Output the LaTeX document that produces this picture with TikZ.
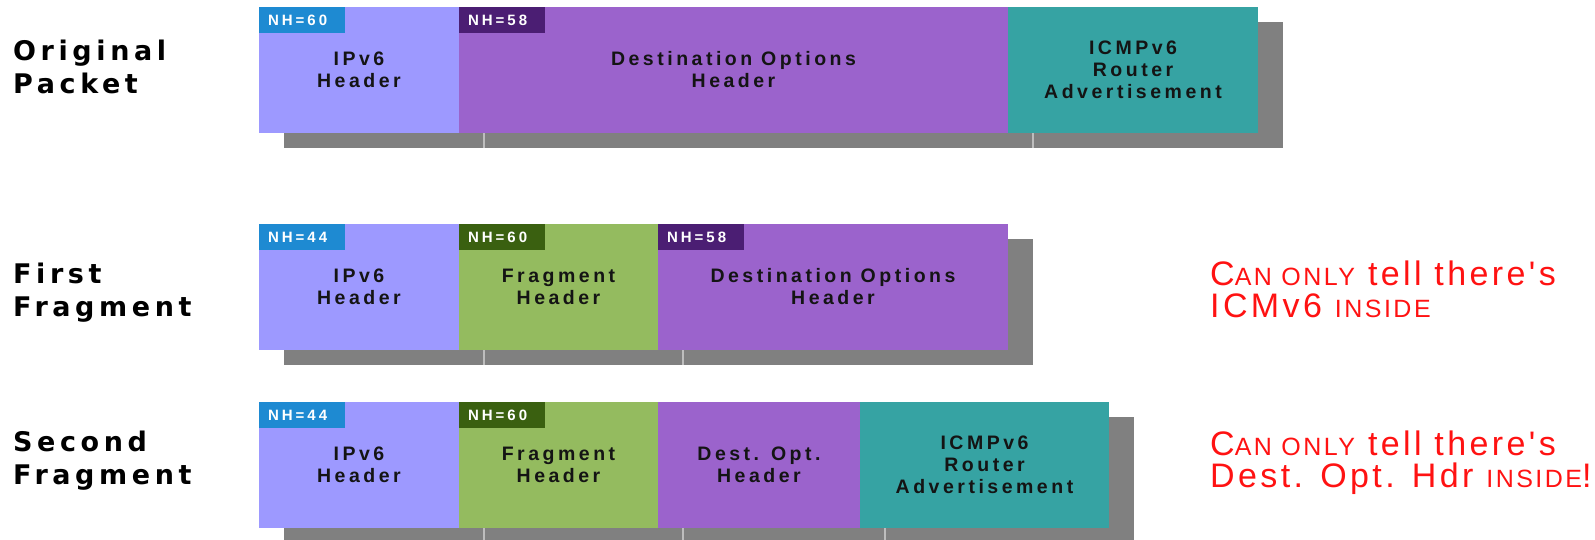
\documentclass[tikz,border=0pt]{standalone}
\usepackage{fontspec}
\setmainfont{Liberation Sans}
\newfontfamily\boxface[LetterSpace=18]{Liberation Sans}
\newfontfamily\labelface[LetterSpace=17]{DejaVu Sans}
\newfontfamily\tagface[LetterSpace=20]{Liberation Sans}
\newfontfamily\noteface[LetterSpace=10]{Liberation Sans}
\usetikzlibrary{shadows}

\definecolor{ipvsix}{HTML}{9D99FF}
\definecolor{destopt}{HTML}{9B63CC}
\definecolor{fraghdr}{HTML}{94BB5F}
\definecolor{icmpc}{HTML}{36A3A3}
\definecolor{tagblue}{HTML}{1E8AD2}
\definecolor{tagpurple}{HTML}{4B1E73}
\definecolor{taggreen}{HTML}{3A6010}
\definecolor{shadowgray}{HTML}{808080}
\definecolor{gapgray}{HTML}{BDBDBD}
\definecolor{notered}{HTML}{FF1212}

% small capitals for the handwritten remarks
\newcommand\sccap[1]{{\fontsize{25}{25}\selectfont #1}}

\tikzset{
  seg/.style={anchor=north west, inner sep=0pt, outer sep=0pt,
    minimum height=126pt, align=center, text=black!92,
    font=\boxface\bfseries\fontsize{19.5}{22}\selectfont,
    drop shadow={shadow xshift=25pt, shadow yshift=-15pt,
      fill=shadowgray, opacity=1}},
  tag/.style={anchor=north west, inner xsep=9pt, inner ysep=0pt,
    outer sep=0pt, text width=68pt, minimum height=26pt, align=left,
    text=white, font=\tagface\bfseries\fontsize{15}{16}\selectfont},
  rowlabel/.style={anchor=west, align=left, inner sep=0pt,
    font=\labelface\bfseries\fontsize{27}{33}\selectfont},
  note/.style={anchor=west, align=left, inner sep=0pt, text=notered,
    font=\noteface\fontsize{34}{32}\selectfont},
  gap/.style={draw=gapgray, line width=1.2pt}
}

\begin{document}
\begin{tikzpicture}[x=1pt, y=-1pt]
\useasboundingbox (0,0) rectangle (1595,540);

% ---------- original packet ----------
\node[rowlabel] (lo) at (13,67) {Original\\Packet};
\node[seg, fill=ipvsix, minimum width=200pt] (oa) at (259,7) {IPv6\\Header};
\node[seg, fill=destopt, minimum width=549pt] (ob) at (oa.north east) {Destination Options\\Header};
\node[seg, fill=icmpc, minimum width=250pt] (oc) at (ob.north east) {ICMPv6\\Router\\Advertisement};
\node[tag, fill=tagblue] (toa) at (oa.north west) {NH=60};
\node[tag, fill=tagpurple] (tob) at (ob.north west) {NH=58};
\draw[gap] ([xshift=25pt]oa.south east) -- ([xshift=25pt,yshift=-15pt]oa.south east);
\draw[gap] ([xshift=25pt]ob.south east) -- ([xshift=25pt,yshift=-15pt]ob.south east);

% ---------- first fragment ----------
\node[rowlabel] (lf) at (13,293) {First\\Fragment};
\node[seg, fill=ipvsix, minimum width=200pt] (fa) at (259,224) {IPv6\\Header};
\node[seg, fill=fraghdr, minimum width=199pt] (fb) at (fa.north east) {Fragment\\Header};
\node[seg, fill=destopt, minimum width=350pt] (fc) at (fb.north east) {Destination Options\\Header};
\node[tag, fill=tagblue] (tfa) at (fa.north west) {NH=44};
\node[tag, fill=taggreen] (tfb) at (fb.north west) {NH=60};
\node[tag, fill=tagpurple] (tfc) at (fc.north west) {NH=58};
\draw[gap] ([xshift=25pt]fa.south east) -- ([xshift=25pt,yshift=-15pt]fa.south east);
\draw[gap] ([xshift=25pt]fb.south east) -- ([xshift=25pt,yshift=-15pt]fb.south east);

% ---------- second fragment ----------
\node[rowlabel] (ls) at (13,461) {Second\\Fragment};
\node[seg, fill=ipvsix, minimum width=200pt] (sa) at (259,402) {IPv6\\Header};
\node[seg, fill=fraghdr, minimum width=199pt] (sb) at (sa.north east) {Fragment\\Header};
\node[seg, fill=destopt, minimum width=202pt] (sc) at (sb.north east) {Dest. Opt.\\Header};
\node[seg, fill=icmpc, minimum width=249pt] (sd) at (sc.north east) {ICMPv6\\Router\\Advertisement};
\node[tag, fill=tagblue] (tsa) at (sa.north west) {NH=44};
\node[tag, fill=taggreen] (tsb) at (sb.north west) {NH=60};
\draw[gap] ([xshift=25pt]sa.south east) -- ([xshift=25pt,yshift=-15pt]sa.south east);
\draw[gap] ([xshift=25pt]sb.south east) -- ([xshift=25pt,yshift=-15pt]sb.south east);
\draw[gap] ([xshift=25pt]sc.south east) -- ([xshift=25pt,yshift=-15pt]sc.south east);

% ---------- remarks ----------
\node[note] (nf) at (1210,289) {C\sccap{AN ONLY} tell there's\\ICMv6 \sccap{INSIDE}};
\node[note] (ns) at (1210,463) {C\sccap{AN ONLY} tell there's\\Dest. Opt. Hdr \sccap{INSIDE}!};
\end{tikzpicture}
\end{document}
